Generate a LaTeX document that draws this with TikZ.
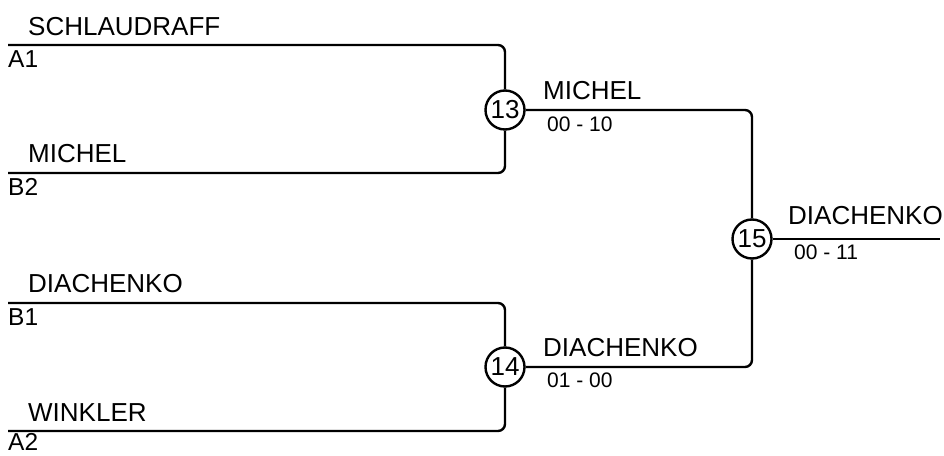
\documentclass[tikz,border=0pt]{standalone}
\usepackage{fontspec}
\setmainfont{Liberation Sans}
\usetikzlibrary{positioning}
\tikzstyle{player} = [anchor=base west, inner sep=0pt, font=\fontsize{26}{30}\selectfont]
\tikzstyle{seedlbl} = [anchor=base west, inner sep=0pt, font=\fontsize{24.5}{28}\selectfont]
\tikzstyle{score} = [anchor=base west, inner sep=0pt, font=\fontsize{21}{25}\selectfont]
\tikzstyle{match} = [circle, draw=black, line width=2.4pt, minimum size=39pt, inner sep=0pt, font=\fontsize{26}{30}\selectfont]
\tikzstyle{bracket} = [line width=2.4pt, rounded corners=7pt]

\begin{document}
\begin{tikzpicture}[x=1pt, y=1pt]
    \useasboundingbox (0,0) rectangle (944,455);

    % matches
    \node (m13) [match] at (505,345) {13};
    \node (m14) [match] at (505,88) {14};
    \node (m15) [match] at (752,216) {15};

    % line starts
    \coordinate (a1) at (8,410);
    \coordinate (b2) at (8,282);
    \coordinate (b1) at (8,152);
    \coordinate (a2) at (8,24);
    \coordinate (champ) at (940,216);

    % players
    \node (schlaudraff) [player] at (28,419) {SCHLAUDRAFF};
    \node (seeda1) [seedlbl] at (8,387) {A1};
    \node (michel) [player] at (28,292) {MICHEL};
    \node (seedb2) [seedlbl] at (8,259) {B2};
    \node (diachenko) [player] at (28,162) {DIACHENKO};
    \node (seedb1) [seedlbl] at (8,129) {B1};
    \node (winkler) [player] at (28,34) {WINKLER};
    \node (seeda2) [seedlbl] at (8,5) {A2};

    % winners
    \node (win13) [player] at (543,355) {MICHEL};
    \node (res13) [score] at (547,323) {00 - 10};
    \node (win14) [player] at (543,99) {DIACHENKO};
    \node (res14) [score] at (547,67) {01 - 00};
    \node (win15) [player] at (788,230) {DIACHENKO};
    \node (res15) [score] at (794,195) {00 - 11};

    \draw [bracket] (a1) -| (m13);
    \draw [bracket] (b2) -| (m13);
    \draw [bracket] (b1) -| (m14);
    \draw [bracket] (a2) -| (m14);
    \draw [bracket] (m13) -| (m15);
    \draw [bracket] (m14) -| (m15);
    \draw [bracket] (m15) -- (champ);
\end{tikzpicture}
\end{document}
